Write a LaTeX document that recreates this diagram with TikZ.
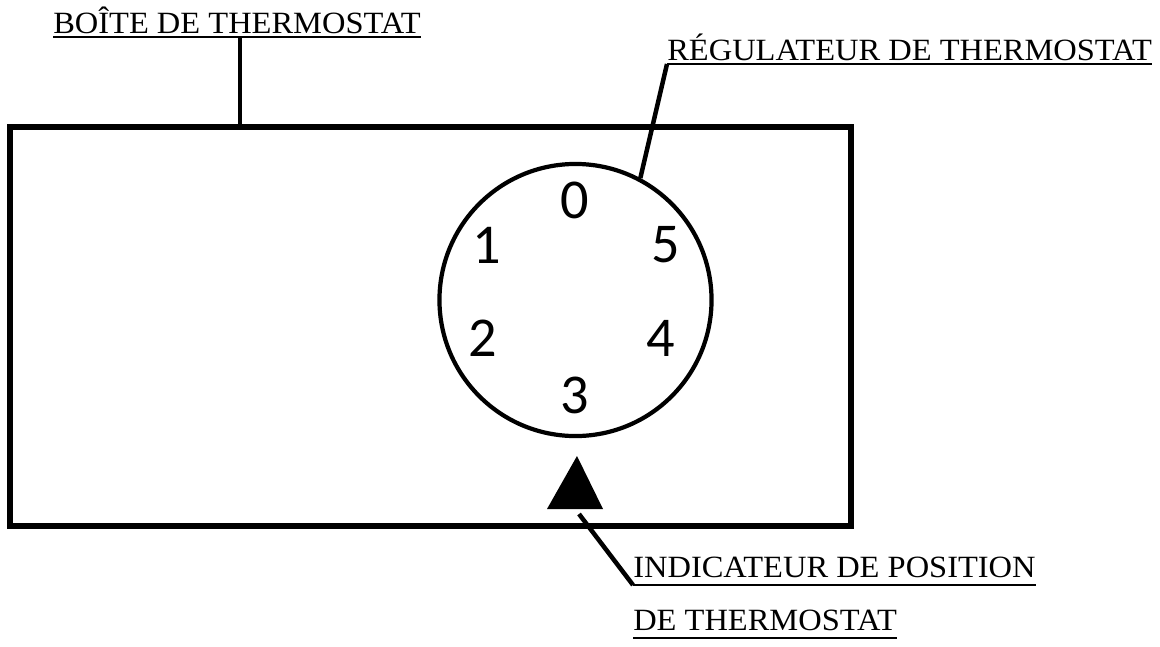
\documentclass[tikz,border=0pt]{standalone}
\usepackage{fontspec}
\setmainfont{Liberation Serif}
\newfontfamily\labelfont[FakeStretch=1.05]{Liberation Serif}
\newfontfamily\digitfont{Carlito}
\usetikzlibrary{positioning, calc}

\begin{document}
\begin{tikzpicture}[
        x=0.025cm, y=-0.025cm,
        caption/.style={font=\labelfont\fontsize{22}{26}\selectfont, inner sep=0pt, anchor=base west},
        uline/.style={line width=1.2pt},
        lead/.style={line width=3.2pt},
        digit/.style={font=\digitfont\fontsize{40}{44}\selectfont, inner sep=0pt}
    ]
        \useasboundingbox (0,0) rectangle (1160,646);

        % housing and dial
        \node[draw, line width=3.8pt, minimum width=21.025cm, minimum height=9.975cm] (box) at (430.5,326.5) {};
        \node[draw, circle, line width=3pt, minimum size=6.8cm] (dial) at (575.5,300) {};

        \node[digit] (d0) at (575,200) {0};
        \node[digit] (d1) at (487,245) {1};
        \node[digit] (d5) at (666,245) {5};
        \node[digit] (d2) at (483,338) {2};
        \node[digit] (d4) at (661,338) {4};
        \node[digit] (d3) at (575,395) {3};

        % position indicator
        \coordinate (tip) at (577,456);
        \fill (tip) -- (603,509) -- (547,509) -- cycle;
        \coordinate (tipfoot) at (579,514);

        % captions
        \node[caption] (boxlbl) at (53,33) {BOÎTE DE THERMOSTAT};
        \node[caption] (reglbl) at (667,60) {RÉGULATEUR DE THERMOSTAT};
        \node[caption] (indlbl) at (633,577) {INDICATEUR DE POSITION};
        \node[caption] (indlbl2) at (633,630) {DE THERMOSTAT};

        \draw[uline] ($(boxlbl.base west)+(0,4)$) -- ($(boxlbl.base east)+(0,4)$);
        \draw[uline] ($(reglbl.base west)+(0,4)$) coordinate (regend) -- ($(reglbl.base east)+(0,4)$);
        \draw[uline] ($(indlbl.base west)+(0,8)$) coordinate (indend) -- ($(indlbl.base east)+(0,8)$);
        \draw[uline] ($(indlbl2.base west)+(0,8)$) -- ($(indlbl2.base east)+(0,8)$);

        % leaders
        \coordinate (boxtick) at (240,37);
        \draw[lead] (boxtick) -- (boxtick |- box.north);
        \draw[lead] (regend) -- (dial.62);
        \draw[lead] (tipfoot) -- (indend);
    \end{tikzpicture}
\end{document}
